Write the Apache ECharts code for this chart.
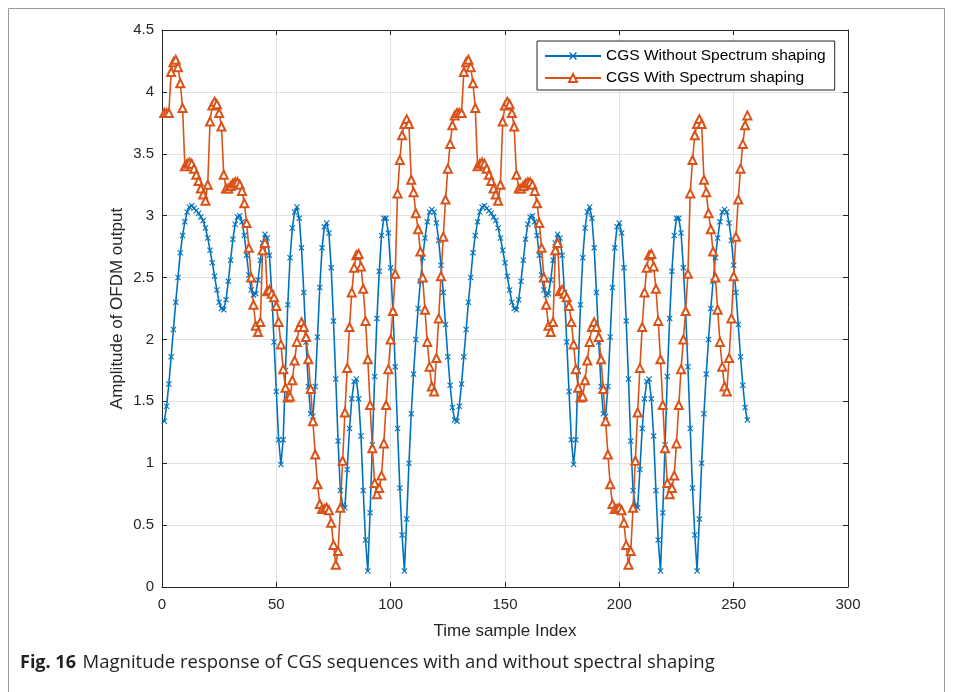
<!DOCTYPE html>
<html>
<head>
<meta charset="utf-8">
<script src="https://cdn.jsdelivr.net/npm/echarts@6/dist/echarts.min.js"></script>
<style>
html,body{margin:0;padding:0;background:#fff;}
#c{width:953px;height:692px;}
</style>
</head>
<body>
<div id="c"></div>
<script>
// Sample index runs 1..256
const sampleCount = 256;
const xTicks = [0, 50, 100, 150, 200, 250, 300];
const yTicks = [0, 0.5, 1, 1.5, 2, 2.5, 3, 3.5, 4, 4.5];
const seriesNames = ['CGS Without Spectrum shaping', 'CGS With Spectrum shaping'];

// CGS Without Spectrum shaping (samples 1..256)
const withoutShaping = [
1.34,1.46,1.64,1.86,2.08,2.30,2.50,2.70,2.84,2.95,
3.03,3.07,3.08,3.06,3.04,3.02,2.99,2.96,2.90,2.82,
2.72,2.62,2.51,2.40,2.30,2.25,2.24,2.32,2.47,2.64,
2.81,2.93,2.99,3.00,2.95,2.84,2.68,2.52,2.40,2.36,
2.37,2.48,2.64,2.78,2.85,2.82,2.68,2.38,1.98,1.58,
1.19,0.99,1.19,1.75,2.28,2.66,2.90,3.03,3.07,2.98,
2.74,2.38,1.98,1.62,1.40,1.38,1.62,2.02,2.42,2.74,
2.91,2.94,2.86,2.58,2.15,1.68,1.18,0.78,0.66,0.64,
0.95,1.28,1.52,1.66,1.68,1.52,1.22,0.78,0.38,0.13,
0.60,1.15,1.70,2.17,2.55,2.84,2.98,2.98,2.86,2.58,
2.22,1.78,1.28,0.80,0.42,0.13,0.55,1.00,1.40,1.72,
2.00,2.25,2.47,2.66,2.82,2.95,3.03,3.05,3.03,2.94,
2.80,2.60,2.38,2.12,1.86,1.63,1.45,1.35,
1.34,1.46,1.64,1.86,2.08,2.30,2.50,2.70,2.84,2.95,
3.03,3.07,3.08,3.06,3.04,3.02,2.99,2.96,2.90,2.82,
2.72,2.62,2.51,2.40,2.30,2.25,2.24,2.32,2.47,2.64,
2.81,2.93,2.99,3.00,2.95,2.84,2.68,2.52,2.40,2.36,
2.37,2.48,2.64,2.78,2.85,2.82,2.68,2.38,1.98,1.58,
1.19,0.99,1.19,1.75,2.28,2.66,2.90,3.03,3.07,2.98,
2.74,2.38,1.98,1.62,1.40,1.38,1.62,2.02,2.42,2.74,
2.91,2.94,2.86,2.58,2.15,1.68,1.18,0.78,0.66,0.64,
0.95,1.28,1.52,1.66,1.68,1.52,1.22,0.78,0.38,0.13,
0.60,1.15,1.70,2.17,2.55,2.84,2.98,2.98,2.86,2.58,
2.22,1.78,1.28,0.80,0.42,0.13,0.55,1.00,1.40,1.72,
2.00,2.25,2.47,2.66,2.82,2.95,3.03,3.05,3.03,2.94,
2.80,2.60,2.38,2.12,1.86,1.63,1.45,1.35
];

// CGS With Spectrum shaping (samples 1..256)
const withShaping = [
3.83,3.83,3.83,4.16,4.24,4.26,4.20,4.07,3.87,3.40,
3.42,3.43,3.42,3.38,3.33,3.28,3.22,3.17,3.12,3.25,
3.76,3.89,3.92,3.90,3.83,3.72,3.33,3.22,3.22,3.24,
3.26,3.27,3.27,3.25,3.20,3.10,2.94,2.74,2.50,2.28,
2.11,2.06,2.14,2.72,2.78,2.39,2.40,2.37,2.34,2.27,
2.14,1.96,1.76,1.61,1.53,1.54,1.67,1.83,1.98,2.10,
2.14,2.10,2.02,1.84,1.60,1.34,1.07,0.83,0.67,0.63,
0.63,0.64,0.62,0.52,0.34,0.18,0.29,0.64,1.02,1.41,
1.77,2.10,2.38,2.58,2.68,2.69,2.59,2.41,2.15,1.84,
1.47,1.12,0.84,0.75,0.80,0.90,1.16,1.47,1.76,2.00,
2.23,2.53,3.18,3.45,3.65,3.74,3.78,3.74,3.29,3.19,
3.02,2.89,2.71,2.50,2.24,1.98,1.78,1.62,1.58,1.85,
2.17,2.51,2.83,3.13,3.38,3.58,3.73,3.81,
3.83,3.83,3.83,4.16,4.24,4.26,4.20,4.07,3.87,3.40,
3.42,3.43,3.42,3.38,3.33,3.28,3.22,3.17,3.12,3.25,
3.76,3.89,3.92,3.90,3.83,3.72,3.33,3.22,3.22,3.24,
3.26,3.27,3.27,3.25,3.20,3.10,2.94,2.74,2.50,2.28,
2.11,2.06,2.14,2.72,2.78,2.39,2.40,2.37,2.34,2.27,
2.14,1.96,1.76,1.61,1.53,1.54,1.67,1.83,1.98,2.10,
2.14,2.10,2.02,1.84,1.60,1.34,1.07,0.83,0.67,0.63,
0.63,0.64,0.62,0.52,0.34,0.18,0.29,0.64,1.02,1.41,
1.77,2.10,2.38,2.58,2.68,2.69,2.59,2.41,2.15,1.84,
1.47,1.12,0.84,0.75,0.80,0.90,1.16,1.47,1.76,2.00,
2.23,2.53,3.18,3.45,3.65,3.74,3.78,3.74,3.29,3.19,
3.02,2.89,2.71,2.50,2.24,1.98,1.78,1.62,1.58,1.85,
2.17,2.51,2.83,3.13,3.38,3.58,3.73,3.81
];

const toPairs = arr => arr.map((v, k) => [k + 1, v]);

const FONT = 'Liberation Sans, Arial, Helvetica, sans-serif';
const AX = '#262626';
const GRIDC = '#e2e2e2';
const BLUE = '#0072BD';
const ORANGE = '#D95319';
const xMark = 'path://M0,1.3L1.3,0L5,3.7L8.7,0L10,1.3L6.3,5L10,8.7L8.7,10L5,6.3L1.3,10L0,8.7L3.7,5Z';

const chart = echarts.init(document.getElementById('c'), null, {renderer: 'canvas', width: 953, height: 692});

const baseAxis = {
  type: 'value',
  axisLine: {show: true, onZero: false, lineStyle: {color: AX, width: 1}},
  axisTick: {show: true, inside: true, length: 5, lineStyle: {color: AX, width: 1}},
  splitLine: {show: false},
  axisLabel: {show: false}
};

chart.setOption({
  animation: false,
  backgroundColor: '#fff',
  grid: {left: 162, right: 105, top: 30, bottom: 105, containLabel: false},
  xAxis: [
    Object.assign({}, baseAxis, {
      min: xTicks[0], max: xTicks[xTicks.length - 1], interval: 50, position: 'bottom',
      splitLine: {show: true, lineStyle: {color: GRIDC, width: 1}},
      axisLabel: {show: true, color: AX, fontSize: 15, fontFamily: FONT, margin: 10},
      name: 'Time sample Index', nameLocation: 'middle', nameGap: 36, nameMoveOverlap: false,
      nameTextStyle: {color: AX, fontSize: 17, fontFamily: FONT}
    }),
    Object.assign({}, baseAxis, {
      min: xTicks[0], max: xTicks[xTicks.length - 1], interval: 50, position: 'top'
    })
  ],
  yAxis: [
    Object.assign({}, baseAxis, {
      min: yTicks[0], max: yTicks[yTicks.length - 1], interval: 0.5, position: 'left',
      splitLine: {show: true, lineStyle: {color: GRIDC, width: 1}},
      axisLabel: {show: true, color: AX, fontSize: 15, fontFamily: FONT, margin: 8},
      name: 'Amplitude of OFDM output', nameLocation: 'middle', nameGap: 36, nameRotate: 90,
      nameMoveOverlap: false,
      nameTextStyle: {color: AX, fontSize: 17, fontFamily: FONT}
    }),
    Object.assign({}, baseAxis, {
      min: yTicks[0], max: yTicks[yTicks.length - 1], interval: 0.5, position: 'right'
    })
  ],
  legend: {
    orient: 'vertical', left: 537, top: 41,
    backgroundColor: '#fff', borderColor: AX, borderWidth: 1,
    padding: [7, 9, 4, 7], itemGap: 6, itemWidth: 56, itemHeight: 10,
    textStyle: {color: '#000', fontSize: 15.5, fontFamily: FONT},
    data: seriesNames
  },
  series: [
    {
      name: seriesNames[0], type: 'line', xAxisIndex: 0, yAxisIndex: 0,
      data: toPairs(withoutShaping),
      symbol: xMark, symbolSize: 6, showAllSymbol: true,
      lineStyle: {color: BLUE, width: 1.6},
      itemStyle: {color: BLUE, borderWidth: 0}
    },
    {
      name: seriesNames[1], type: 'line', xAxisIndex: 0, yAxisIndex: 0,
      data: toPairs(withShaping),
      symbol: 'emptyTriangle', symbolSize: 8, showAllSymbol: true,
      lineStyle: {color: ORANGE, width: 1.6},
      itemStyle: {color: ORANGE, borderWidth: 1.3}
    }
  ],
  graphic: [
    {type: 'rect', silent: true, shape: {x: 8.5, y: 8.5, width: 936, height: 720},
     style: {fill: 'none', stroke: '#9a9a9a', lineWidth: 1}, z: -10},
    {type: 'text', left: 20, top: 653,
     style: {
       text: '{b|Fig. 16}  {r|Magnitude response of CGS sequences with and without spectral shaping}',
       rich: {
         b: {fontFamily: 'Open Sans, Noto Sans, sans-serif', fontWeight: 'bold', fontSize: 18, fill: '#231f20'},
         r: {fontFamily: 'Open Sans, Noto Sans, sans-serif', fontSize: 18.5, fill: '#231f20'}
       }
     }}
  ]
});
</script>
</body>
</html>
